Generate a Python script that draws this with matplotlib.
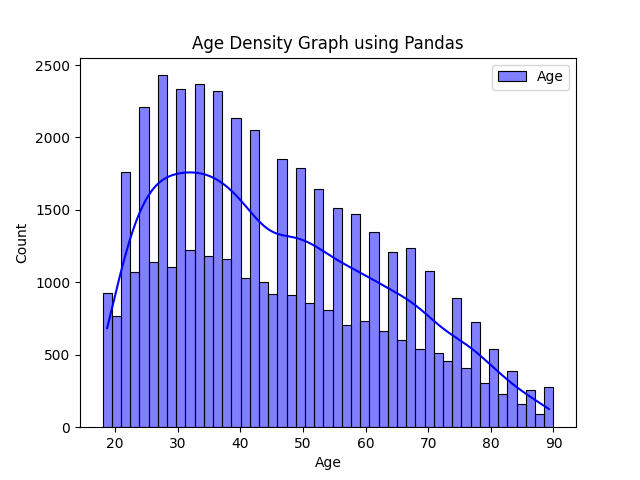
import numpy as np
import pandas as pd
import matplotlib
matplotlib.use("Agg")
import matplotlib.pyplot as plt
import seaborn as sns

counts = [925, 765, 1760, 1070, 2210, 1140, 2430, 1105, 2335, 1220,
          2370, 1180, 2320, 1160, 2135, 1030, 2050, 1000, 920, 1850,
          910, 1790, 860, 1645, 810, 1510, 705, 1470, 730, 1345,
          665, 1210, 600, 1235, 540, 1080, 510, 460, 890, 410,
          725, 305, 540, 230, 385, 160, 255, 90, 275]
age_min, age_max = 18, 90

edges = np.linspace(age_min, age_max, len(counts) + 1)
centers = (edges[:-1] + edges[1:]) / 2
df = pd.DataFrame({"Age": centers, "w": counts})

fig, ax = plt.subplots(figsize=(6.4, 4.8), dpi=100)
sns.histplot(data=df, x="Age", weights="w", bins=len(counts),
             binrange=(age_min, age_max), kde=True,
             color="blue", alpha=0.5, edgecolor="black", linewidth=0.8,
             kde_kws={"bw_adjust": 0.37}, label="Age", ax=ax)
ax.lines[0].set_linewidth(1.5)
ax.set_title("Age Density Graph using Pandas")
ax.set_xlabel("Age")
ax.set_ylabel("Count")
ax.legend()
fig.savefig("out.png", dpi=100)
